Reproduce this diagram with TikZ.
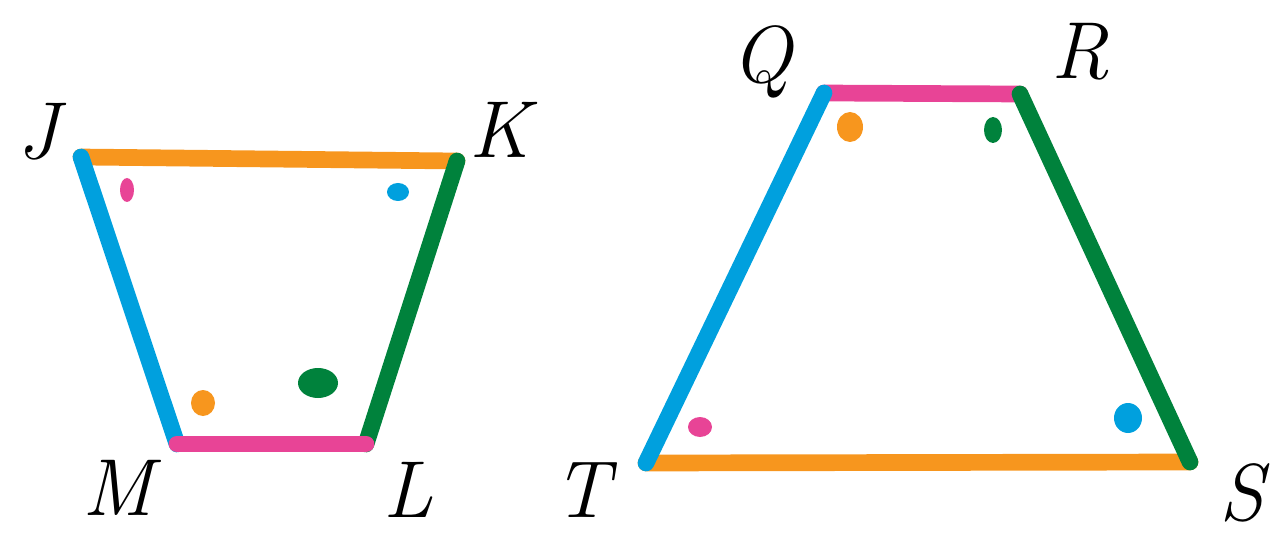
\documentclass[tikz,border=0pt]{standalone}
\usepackage{fontspec}
\usepackage{tikz}
\usetikzlibrary{positioning}
\definecolor{orange1}{RGB}{247, 150, 30}
\definecolor{blue1}{RGB}{0, 160, 222}
\definecolor{green1}{RGB}{0, 130, 60}
\definecolor{pink1}{RGB}{232, 68, 150}
\begin{document}
\begin{tikzpicture}[x=0.02cm, y=-0.02cm,
    side/.style={line width=9.5pt, line cap=round},
    vlabel/.style={font=\fontsize{46}{54}\selectfont\itshape, inner sep=0pt}]
  \useasboundingbox (0,0) rectangle (1276,537);
  % left trapezoid
  \coordinate (J) at (81,157);
  \coordinate (K) at (457,161);
  \coordinate (L) at (366,444);
  \coordinate (M) at (177,444);
  \draw[side, orange1] (J) -- (K);
  \draw[side, blue1] (J) -- (M);
  \draw[side, green1] (K) -- (L);
  \draw[side, pink1] (M) -- (L);
  % right trapezoid
  \coordinate (Q) at (824,93);
  \coordinate (R) at (1020,94);
  \coordinate (S) at (1190,462);
  \coordinate (T) at (646,463);
  \draw[side, pink1] (Q) -- (R);
  \draw[side, orange1] (T) -- (S);
  \draw[side, green1] (R) -- (S);
  \draw[side, blue1] (T) -- (Q);
  % angle marks
  \fill[pink1] (127,190) ellipse (7 and 12);
  \fill[blue1] (398,192) ellipse (11 and 9);
  \fill[orange1] (203,403) ellipse (12 and 13);
  \fill[green1] (318,383) ellipse (20 and 15);
  \fill[orange1] (850,127) ellipse (13 and 15);
  \fill[green1] (993,130) ellipse (9 and 13);
  \fill[pink1] (700,427) ellipse (12 and 10);
  \fill[blue1] (1128,418) ellipse (14 and 15);
  % labels
  \node[vlabel] (labJ) at (38,132) {J};
  \node[vlabel] (labK) at (500,130) {K};
  \node[vlabel] (labM) at (118,488) {M};
  \node[vlabel] (labL) at (408,490) {L};
  \node[vlabel] (labQ) at (762,62) {Q};
  \node[vlabel] (labR) at (1080,52) {R};
  \node[vlabel] (labT) at (582,490) {T};
  \node[vlabel] (labS) at (1242,493) {S};
\end{tikzpicture}
\end{document}
